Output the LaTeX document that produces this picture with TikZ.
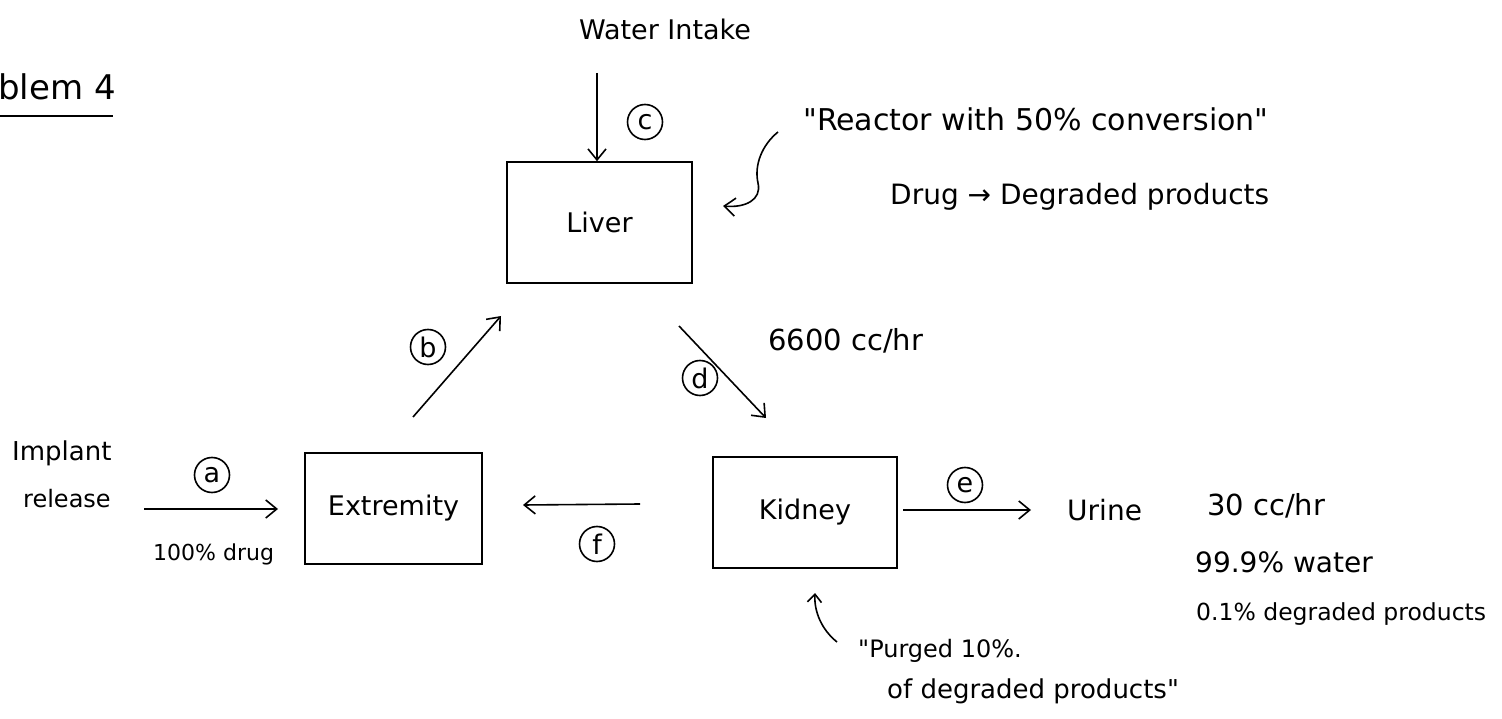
\documentclass[tikz,border=0pt]{standalone}
\usepackage{fontspec}
\setmainfont{DejaVu Sans}[Ligatures=TeXOff]
\usetikzlibrary{arrows.meta}
\begin{document}
\begin{tikzpicture}[x=1pt,y=-1pt,
  ink/.style={line width=1.6pt, draw=black},
  box/.style={ink, rectangle, inner sep=0pt, font=\fontsize{27}{30}\selectfont},
  flow/.style={ink, -{Straight Barb[length=11pt,width=18pt,line width=1.6pt]}},
  smallflow/.style={ink, -{Straight Barb[length=8pt,width=14pt,line width=1.6pt]}},
  tag/.style={ink, circle, inner sep=0pt, minimum size=35pt, font=\fontsize{27}{28}\selectfont},
  lbl/.style={inner sep=0pt, font=\fontsize{#1}{#1}\selectfont},
  lbl/.default=26,
]
\useasboundingbox (0,0) rectangle (1502,719);
\clip (0,0) rectangle (1502,719);

% heading
\node[lbl=34, anchor=base west] (title) at (-2,100) {blem 4};
\draw[ink] (0,116) -- (113,116);

% compartments
\node[box, minimum width=185pt, minimum height=121pt] (liver)     at (599.5,222.5) {Liver};
\node[box, minimum width=177pt, minimum height=111pt] (extremity) at (393.5,508.5) {Extremity};
\node[box, minimum width=184pt, minimum height=111pt] (kidney)    at (805,512.5)   {Kidney};

% stream c: water intake into the liver
\node[lbl=27, anchor=base] (water) at (665,40) {Water Intake};
\coordinate (cin) at (597,73);
\draw[flow] (cin) -- (cin |- liver.north);
\node[tag] (tc) at (645,122) {c};

% reactor note
\node[lbl=30, anchor=base west] (reactor) at (803,131) {"Reactor with 50\% conversion"};
\node[lbl=28, anchor=base west] (drug) at (890,205) {Drug → Degraded products};
\coordinate (rtail) at (778,132);
\coordinate (rhead) at (723,206);
\draw[flow] (rtail) .. controls (762,145) and (754,165) .. (758,183)
                    .. controls (762,200) and (745,208) .. (rhead);

% stream b: extremity to liver
\coordinate (btail) at (413,417);
\coordinate (bhead) at (501,316);
\draw[flow] (btail) -- (bhead);
\node[tag] (tb) at (428,347) {b};

% stream d: liver to kidney
\coordinate (dtail) at (679,326);
\coordinate (dhead) at (766,418);
\draw[flow] (dtail) -- (dhead);
\node[tag] (td) at (700,378) {d};
\node[lbl=29, anchor=base west] (rate) at (768,350) {6600 cc/hr};

% stream a: implant release
\node[lbl=26, anchor=base west] (implant) at (12,460) {Implant};
\node[lbl=24, anchor=base west] (release) at (23,507) {release};
\coordinate (atail) at (144,509);
\coordinate (ahead) at (278,509);
\draw[flow] (atail) -- (ahead);
\node[tag] (ta) at (212,475) {a};
\node[lbl=22, anchor=base west] (drugpct) at (153,560) {100\% drug};

% stream f: kidney back to extremity
\coordinate (ftail) at (640,504);
\coordinate (fhead) at (523,505);
\draw[flow] (ftail) -- (fhead);
\node[tag] (tf) at (597,544) {f};

% stream e: urine
\coordinate (etail) at (903,510);
\coordinate (ehead) at (1031,510);
\draw[flow] (etail) -- (ehead);
\node[tag] (te) at (965,485) {e};
\node[lbl=28, anchor=base west] (urine) at (1067,520) {Urine};
\node[lbl=29, anchor=base west] (urate) at (1207,515) {30 cc/hr};
\node[lbl=28, anchor=base west] (uwater) at (1195,572) {99.9\% water};
\node[lbl=23.5, anchor=base west] (uprod) at (1196,620) {0.1\% degraded products};

% purge note
\coordinate (ptail) at (837,642);
\coordinate (phead) at (815,593);
\draw[smallflow] (ptail) .. controls (822,630) and (814,612) .. (phead);
\node[lbl=24, anchor=base west] (purged) at (858,657) {"Purged 10\%.};
\node[lbl=26, anchor=base west] (purged2) at (887,698) {of degraded products"};
\end{tikzpicture}
\end{document}
